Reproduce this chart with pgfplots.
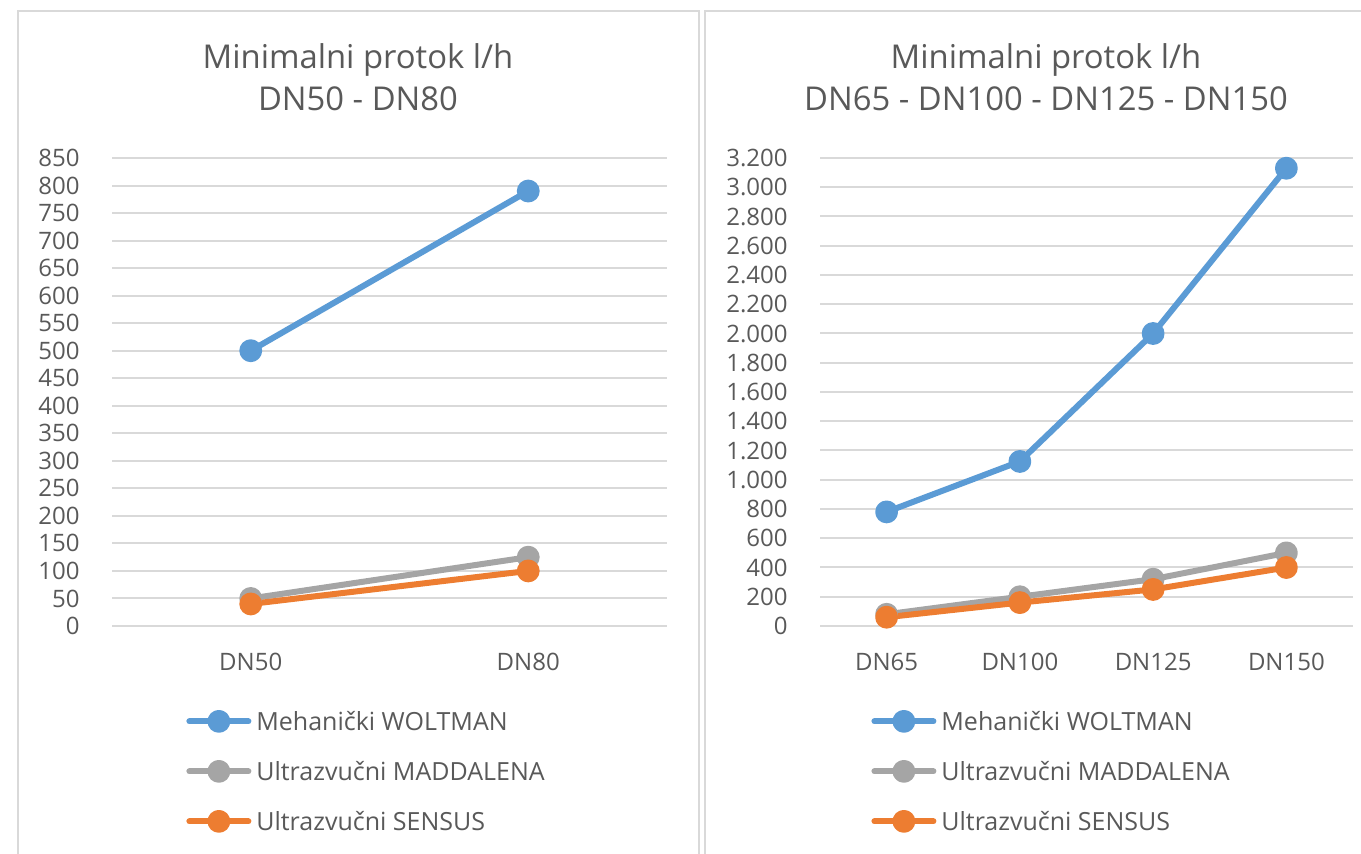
\documentclass[border=0pt]{standalone}
\usepackage{fontspec}
\setmainfont{Open Sans}
\usepackage{pgfplots}
\pgfplotsset{compat=1.18}

\definecolor{txt}{HTML}{595959}
\definecolor{gridc}{HTML}{D9D9D9}
\definecolor{cblue}{HTML}{5B9BD5}
\definecolor{cgray}{HTML}{A5A5A5}
\definecolor{corange}{HTML}{ED7D31}

\pgfplotsset{
  panel/.style={
    scale only axis, height=234pt, ymin=0, clip=false,
    axis line style={draw=none}, tick style={draw=none},
    ymajorgrids, grid style={line width=1pt, color=gridc},
    scaled y ticks=false,
    /pgf/number format/.cd, 1000 sep={.}, assume math mode=true, /pgfplots/.cd,
    ticklabel style={font=\fontsize{12}{14}\selectfont, text=txt},
    yticklabel style={anchor=east, inner sep=0pt, xshift=-16pt},
    xticklabel style={anchor=base, inner sep=0pt, yshift=-22.25pt},
    legend cell align=left,
    legend style={draw=none, fill=none, inner xsep=0pt, inner ysep=0pt,
      anchor=north west, row sep=10pt, column sep=2.5pt,
      font=\fontsize{12.5}{15}\selectfont, text=txt,
      nodes={inner sep=0pt, text height=12pt, text depth=3pt}},
    legend image code/.code={
      \draw[mark repeat=2, mark phase=2, #1]
        plot coordinates {(0pt,0pt) (14.75pt,0pt) (29.5pt,0pt)};},
  },
  ser/.style={line width=3pt, line cap=round, line join=round, color=#1,
    mark=*, mark size=4.2pt, mark options={solid, fill=#1, draw=none}},
}

\begin{document}
\begin{tikzpicture}
\useasboundingbox (0,0) rectangle (680.5pt,427pt);

% left panel
\begin{axis}[panel, at={(56pt,114pt)}, anchor=south west, width=277.5pt,
  xmin=-0.5, xmax=1.5, ymax=850, ytick distance=50,
  xtick={0,1}, xticklabels={DN50,DN80},
  legend style={at={(0.1333,-0.1709)}}]
  \addplot[ser=cblue] coordinates {(0,500) (1,790)};
  \addplot[ser=cgray] coordinates {(0,50) (1,125)};
  \addplot[ser=corange] coordinates {(0,40) (1,100)};
  \legend{Mehanički WOLTMAN, Ultrazvučni MADDALENA, Ultrazvučni SENSUS}
\end{axis}

% right panel
\begin{axis}[panel, at={(410pt,114pt)}, anchor=south west, width=266.5pt,
  xmin=-0.5, xmax=3.5, ymax=3200, ytick distance=200,
  xtick={0,1,2,3}, xticklabels={DN65,DN100,DN125,DN150},
  legend style={at={(0.0957,-0.1709)}}]
  \addplot[ser=cblue] coordinates {(0,780) (1,1125) (2,2000) (3,3130)};
  \addplot[ser=cgray] coordinates {(0,80) (1,200) (2,320) (3,500)};
  \addplot[ser=corange] coordinates {(0,60) (1,160) (2,250) (3,400)};
  \legend{Mehanički WOLTMAN, Ultrazvučni MADDALENA, Ultrazvučni SENSUS}
\end{axis}

% panel frames
\draw[gridc, line width=0.75pt] (9pt,0pt) -- (9pt,421.5pt) -- (349.5pt,421.5pt) -- (349.5pt,0pt);
\draw[gridc, line width=0.75pt] (352.5pt,0pt) -- (352.5pt,421.5pt) -- (681pt,421.5pt);

% titles
\begin{scope}[every node/.style={anchor=base, text=txt, font=\fontsize{16.4}{20}\selectfont}]
  \node at (179pt,392.85pt) {Minimalni protok l/h};
  \node at (179pt,371.65pt) {DN50 - DN80};
  \node at (523pt,392.85pt) {Minimalni protok l/h};
  \node at (523pt,371.65pt) {DN65 - DN100 - DN125 - DN150};
\end{scope}
\end{tikzpicture}
\end{document}
